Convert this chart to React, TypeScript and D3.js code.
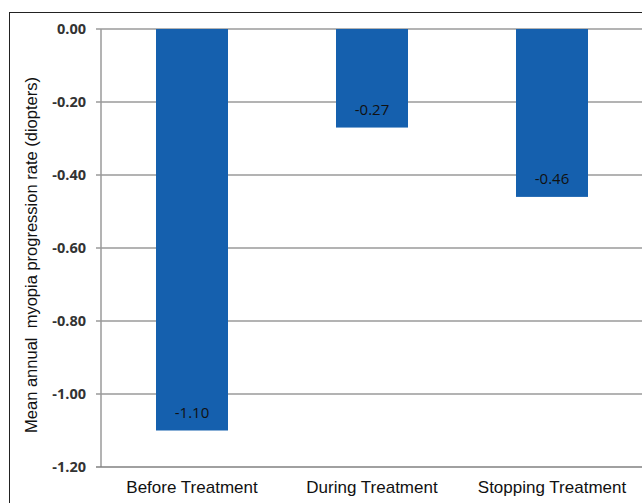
// @ts-nocheck
import React, { useEffect, useRef } from "react";
import * as d3 from "d3";

const categories = ["Before Treatment", "During Treatment", "Stopping Treatment"];
const rates = [-1.1, -0.27, -0.46];
const yTicks = [0, -0.2, -0.4, -0.6, -0.8, -1.0, -1.2];

const App = () => {
  const svgRef = useRef();

  useEffect(() => {
    const width = 642;
    const height = 503;
    const plot = { left: 101, right: 642, top: 29, bottom: 467 };

    const svg = d3.select(svgRef.current);
    svg.selectAll("*").remove();
    svg.attr("width", width).attr("height", height);

    // outer frame (cut off on the right and bottom)
    svg
      .append("rect")
      .attr("x", 9.5)
      .attr("y", 12.5)
      .attr("width", 700)
      .attr("height", 600)
      .attr("fill", "white")
      .attr("stroke", "#222")
      .attr("stroke-width", 1);

    const x = d3
      .scaleBand()
      .domain(categories)
      .range([plot.left + 1, plot.left + 1 + 540])
      .padding(0);
    const y = d3.scaleLinear().domain([-1.2, 0]).range([plot.bottom, plot.top]);

    // gridlines
    svg
      .append("g")
      .selectAll("line")
      .data(yTicks.filter((d) => d !== -1.2))
      .enter()
      .append("line")
      .attr("x1", plot.left - 5)
      .attr("x2", width)
      .attr("y1", (d) => y(d))
      .attr("y2", (d) => y(d))
      .attr("stroke", "#9a9a9a")
      .attr("stroke-width", 1.5);

    // bars
    const barW = x.bandwidth() * 0.4;
    svg
      .append("g")
      .selectAll("rect")
      .data(categories)
      .enter()
      .append("rect")
      .attr("x", (d) => x(d) + (x.bandwidth() - barW) / 2)
      .attr("y", y(0))
      .attr("width", barW)
      .attr("height", (d, i) => y(rates[i]) - y(0))
      .attr("fill", "#1560ae");

    // value labels
    svg
      .append("g")
      .selectAll("text")
      .data(categories)
      .enter()
      .append("text")
      .attr("x", (d) => x(d) + x.bandwidth() / 2)
      .attr("y", (d, i) => y(rates[i]) - 13)
      .attr("text-anchor", "middle")
      .style("font-family", "'Open Sans', sans-serif")
      .style("font-size", "15px")
      .style("fill", "#111")
      .text((d, i) => rates[i].toFixed(2));

    // y axis line
    svg
      .append("line")
      .attr("x1", plot.left)
      .attr("x2", plot.left)
      .attr("y1", plot.top)
      .attr("y2", plot.bottom)
      .attr("stroke", "#9a9a9a")
      .attr("stroke-width", 1.5);

    // x axis line
    svg
      .append("line")
      .attr("x1", plot.left - 5)
      .attr("x2", width)
      .attr("y1", plot.bottom)
      .attr("y2", plot.bottom)
      .attr("stroke", "#808080")
      .attr("stroke-width", 1.5);

    // y tick labels
    svg
      .append("g")
      .selectAll("text")
      .data(yTicks)
      .enter()
      .append("text")
      .attr("x", 86)
      .attr("y", (d) => y(d))
      .attr("dy", "0.35em")
      .attr("text-anchor", "end")
      .style("font-family", "'Open Sans', sans-serif")
      .style("font-size", "14.5px")
      .style("font-weight", "bold")
      .style("fill", "#333")
      .text((d) => d.toFixed(2));

    // category labels
    svg
      .append("g")
      .selectAll("text")
      .data(categories)
      .enter()
      .append("text")
      .attr("x", (d) => x(d) + x.bandwidth() / 2)
      .attr("y", 493)
      .attr("text-anchor", "middle")
      .style("font-family", "'Liberation Sans', Arial, sans-serif")
      .style("font-size", "17px")
      .style("fill", "#111")
      .text((d) => d);

    // y axis title
    svg
      .append("text")
      .attr("transform", "translate(37,255) rotate(-90)")
      .attr("text-anchor", "middle")
      .style("font-family", "'Liberation Sans', Arial, sans-serif")
      .style("font-size", "16.5px")
      .style("fill", "#111")
      .style("white-space", "pre")
      .text("Mean annual  myopia progression rate (diopters)");
  }, []);

  return (
    <svg
      ref={svgRef}
      style={{ position: "absolute", left: 0, top: 0, display: "block" }}
    ></svg>
  );
};

export default App;
